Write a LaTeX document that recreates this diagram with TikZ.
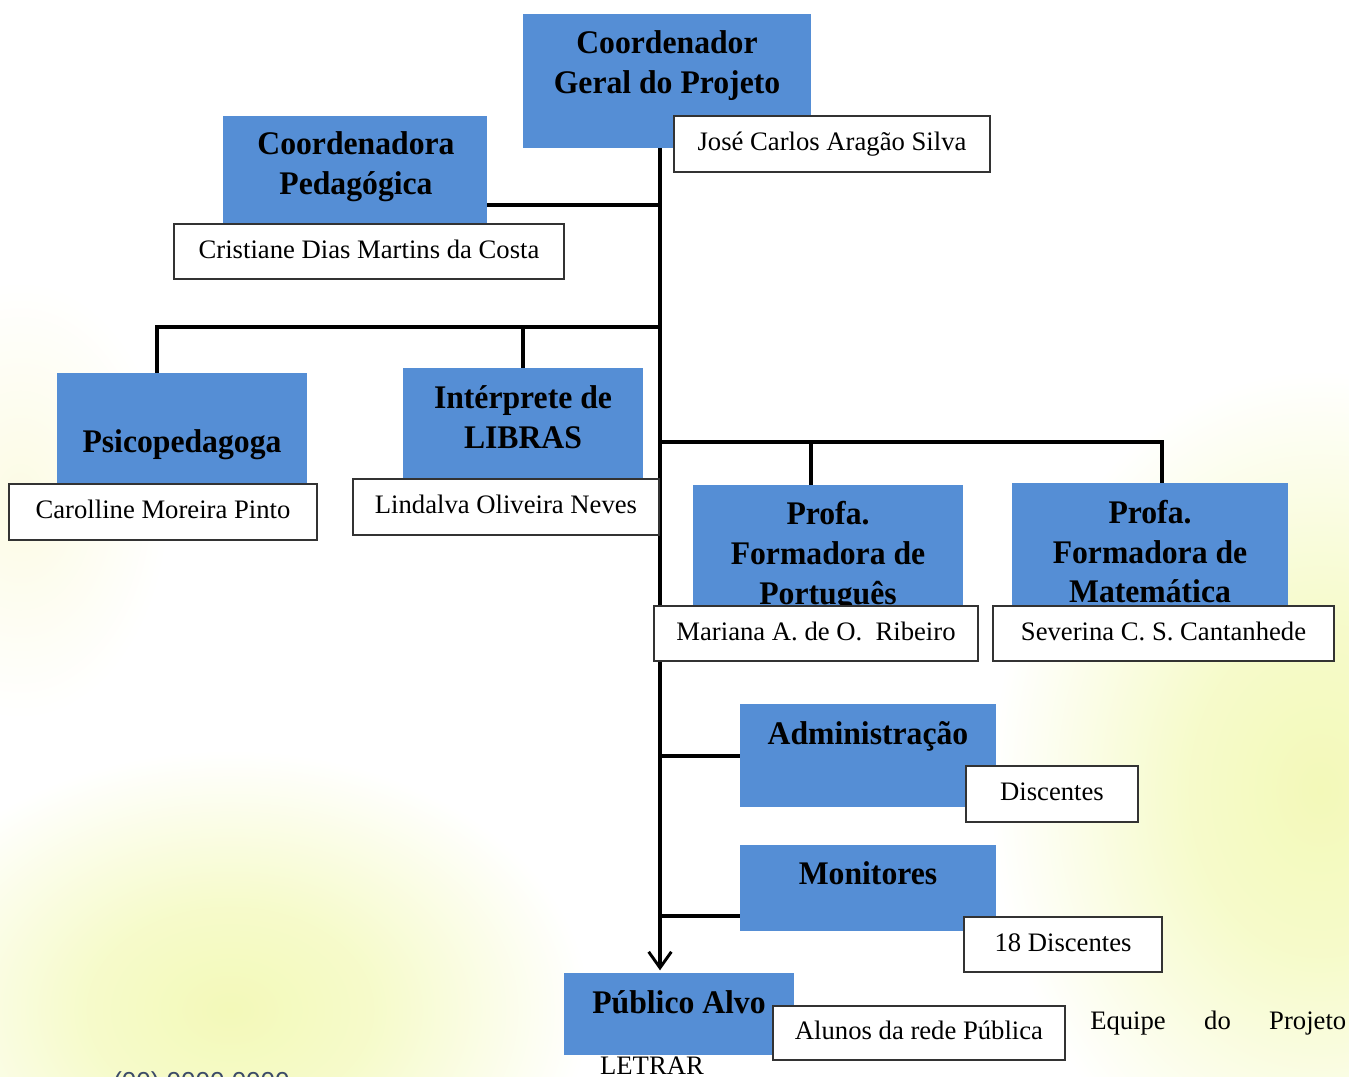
\documentclass[tikz,border=0pt]{standalone}
\usepackage{fontspec}
\setmainfont{Liberation Serif}
\newfontfamily\ttlfont{Liberation Serif}[FakeStretch=0.96]
\newfontfamily\phonefont{Liberation Sans}
\usetikzlibrary{arrows.meta}
\definecolor{boxblue}{RGB}{85,142,213}
\definecolor{glowA}{RGB}{243,249,185}
\definecolor{glowB}{RGB}{252,251,228}
\definecolor{phonec}{RGB}{60,75,105}
\pgfdeclareradialshading{glowshadeA}{\pgfpoint{0bp}{0bp}}{color(0bp)=(glowA); color(10bp)=(glowA!75!white); color(25bp)=(white); color(50bp)=(white)}
\pgfdeclareradialshading{glowshadeB}{\pgfpoint{0bp}{0bp}}{color(0bp)=(glowB); color(25bp)=(white); color(50bp)=(white)}
\newcommand\bluebx[5]{\node[bluebox, minimum width={(#4-#2)*0.75pt}, minimum height={(#5-#3)*0.75pt}] (#1) at ({(#2+#4)/2},{(#3+#5)/2}) {};}
\newcommand\namebx[6]{\node[namebox, minimum width={(#4-#2)*0.75pt}, minimum height={(#5-#3)*0.75pt}] (#1) at ({(#2+#4)/2},{(#3+#5)/2}) {#6};}
\newcommand\ttline[4]{\node[ttl, anchor=base] (#1) at (#2,#3) {#4};}
\begin{document}
\begin{tikzpicture}[x=0.75pt,y=-0.75pt,
  bluebox/.style={draw=none, fill=boxblue, inner sep=0pt, outer sep=0pt},
  namebox/.style={draw=black!80, line width=0.8pt, fill=white, inner sep=0pt, outer sep=0pt,
    font=\fontsize{20}{24}\selectfont, text height=14pt, text depth=4pt},
  ttl/.style={font=\ttlfont\bfseries\fontsize{24.75}{30}\selectfont, inner sep=0pt},
  plain/.style={font=\fontsize{20}{24}\selectfont, inner sep=0pt},
  conn/.style={line width=2.8pt, black}]
\useasboundingbox (0,0) rectangle (1349,1077);
% background
\begin{scope}
  \clip (0,0) rectangle (1349,1077);
  \fill[white] (0,0) rectangle (1349,1077);
  \begin{scope}[blend mode=multiply]
    \shade[shading=glowshadeA] (1320,790) ellipse [x radius=330, y radius=420];
    \shade[shading=glowshadeA] (230,1010) ellipse [x radius=360, y radius=260];
    \shade[shading=glowshadeB] (20,500) ellipse [x radius=150, y radius=220];
  \end{scope}
\end{scope}

% junction coordinates on the trunk
\coordinate (t0) at (660,148);
\coordinate (j1) at (660,205);
\coordinate (j2) at (660,327);
\coordinate (j3) at (660,442);
\coordinate (j4) at (660,756);
\coordinate (j5) at (660,916);

% blue boxes
\bluebx{cg}{523}{14}{811}{148}
\bluebx{cp}{223}{116}{487}{223}
\bluebx{ps}{57}{373}{307}{484}
\bluebx{li}{403}{368}{643}{478}
\bluebx{pt}{693}{485}{963}{605}
\bluebx{ma}{1012}{483}{1288}{605}
\bluebx{ad}{740}{704}{996}{807}
\bluebx{mo}{740}{845}{996}{931}
\bluebx{pa}{564}{973}{794}{1055}

% connectors
\draw[conn] (j1) -- (j1 -| cp.east);
\draw[conn] (j2) -| ([xshift=-18.75pt]ps.north);
\draw[conn] (j2 -| li.north) -- (li.north);
\draw[conn] (j3) -| ([xshift=9pt]ma.north);
\draw[conn] ([xshift=-12.75pt]pt.north) |- (j3);
\draw[conn] (j4) -- (j4 -| ad.west);
\draw[conn] (j5) -- (j5 -| mo.west);
\draw[conn, -{Straight Barb[length=12pt, width=17pt, line width=2.2pt]}, shorten >=2pt] (t0) -- (t0 |- pa.north);

% titles
\ttline{cgA}{667}{54}{Coordenador}
\ttline{cgB}{667}{94}{Geral do Projeto}
\ttline{cpA}{356}{155}{Coordenadora}
\ttline{cpB}{356}{195}{Pedagógica}
\ttline{psA}{182}{452}{Psicopedagoga}
\ttline{liA}{523}{408}{Intérprete de}
\ttline{liB}{523}{448}{LIBRAS}
\ttline{ptA}{828}{524}{Profa.}
\ttline{ptB}{828}{564}{Formadora de}
\ttline{ptC}{828}{604}{Português}
\ttline{maA}{1150}{523}{Profa.}
\ttline{maB}{1150}{563}{Formadora de}
\ttline{maC}{1150}{602}{Matemática}
\ttline{adA}{868}{744}{Administração}
\ttline{moA}{868}{884}{Monitores}
\ttline{paA}{679}{1013}{Público Alvo}

% name boxes
\namebx{jose}{674}{116}{990}{172}{José Carlos Aragão Silva}
\namebx{cris}{174}{224}{564}{279}{Cristiane Dias Martins da Costa}
\namebx{caro}{9}{484}{317}{540}{Carolline Moreira Pinto}
\namebx{lind}{353}{479}{659}{535}{Lindalva Oliveira Neves}
\namebx{mar}{654}{606}{978}{661}{Mariana A. de O.\ \ Ribeiro}
\namebx{sev}{993}{606}{1334}{661}{Severina C. S. Cantanhede}
\namebx{disc}{966}{766}{1138}{822}{Discentes}
\namebx{discb}{964}{917}{1162}{972}{18 Discentes}
\namebx{alu}{773}{1006}{1065}{1060}{Alunos da rede Pública}

% free texts
\node[plain, anchor=base west] (eq) at (1090,1029) {\makebox[192pt][s]{Equipe\hfill do\hfill Projeto}};
\node[plain, anchor=base] (letrar) at (652,1074) {LETRAR};
\begin{scope}
  \clip (0,0) rectangle (1349,1077);
  \node[inner sep=0pt, anchor=base west, text=phonec, font=\phonefont\fontsize{19.5}{22}\selectfont] (phone) at (113,1090) {(00) 0000 0000};
\end{scope}
\end{tikzpicture}
\end{document}
